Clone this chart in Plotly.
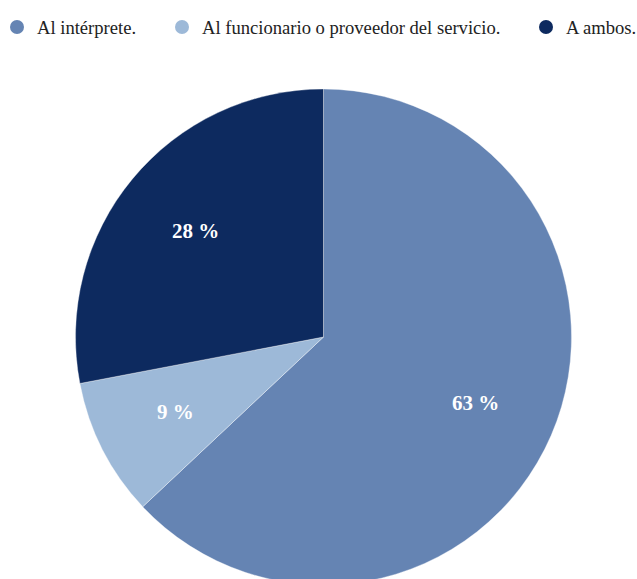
import math
import plotly.graph_objects as go

# Responses: who the respondent addresses during the interpreted exchange
categories = ["Al intérprete.", "Al funcionario o proveedor del servicio.", "A ambos."]
shares = [63, 9, 28]
colors = ["#6584B3", "#9DB9D8", "#0D2A5F"]

W, H = 637, 600
cx, cy, R = 323.5, 337, 248
LABEL_R = 0.67 * R

fig = go.Figure()

fig.add_trace(go.Pie(
    labels=categories,
    values=shares,
    sort=False,
    direction="clockwise",
    rotation=0,
    marker=dict(colors=colors, line=dict(color="rgba(255,255,255,0.6)", width=0.6)),
    textinfo="none",
    hoverinfo="label+percent",
    showlegend=False,
    domain=dict(x=[(cx - R) / W, (cx + R) / W], y=[1 - (cy + R) / H, 1 - (cy - R) / H]),
))

# Percentage labels placed along each slice's bisector
total = sum(shares)
acc = 0
for v in shares:
    mid = 2 * math.pi * (acc + v / 2) / total
    acc += v
    px = cx + LABEL_R * math.sin(mid)
    py = cy - LABEL_R * math.cos(mid)
    fig.add_annotation(
        x=px / W, y=1 - py / H, xref="paper", yref="paper",
        text=f"{v} %", showarrow=False, xanchor="center", yanchor="middle",
        font=dict(family="Liberation Serif", size=21, color="white", weight="bold"),
    )

# Legend row: circular swatch + caption for each category
legend_y = 27
swatch_x = [17, 182, 546]
for name, col, sx in zip(categories, colors, swatch_x):
    fig.add_shape(
        type="circle", xref="paper", yref="paper",
        x0=(sx - 7) / W, x1=(sx + 7) / W,
        y0=1 - (legend_y + 7) / H, y1=1 - (legend_y - 7) / H,
        fillcolor=col, line=dict(width=0),
    )
    fig.add_annotation(
        x=(sx + 18) / W, y=1 - legend_y / H, xref="paper", yref="paper",
        text=name, showarrow=False, xanchor="left", yanchor="middle",
        font=dict(family="Liberation Serif", size=18.6, color="#222222"),
    )

fig.update_layout(
    width=W, height=H,
    margin=dict(l=0, r=0, t=0, b=0),
    paper_bgcolor="white",
    plot_bgcolor="white",
    showlegend=False,
)

fig.write_html("out.html", post_script="document.body.style.margin='0';document.body.style.overflow='hidden';")
